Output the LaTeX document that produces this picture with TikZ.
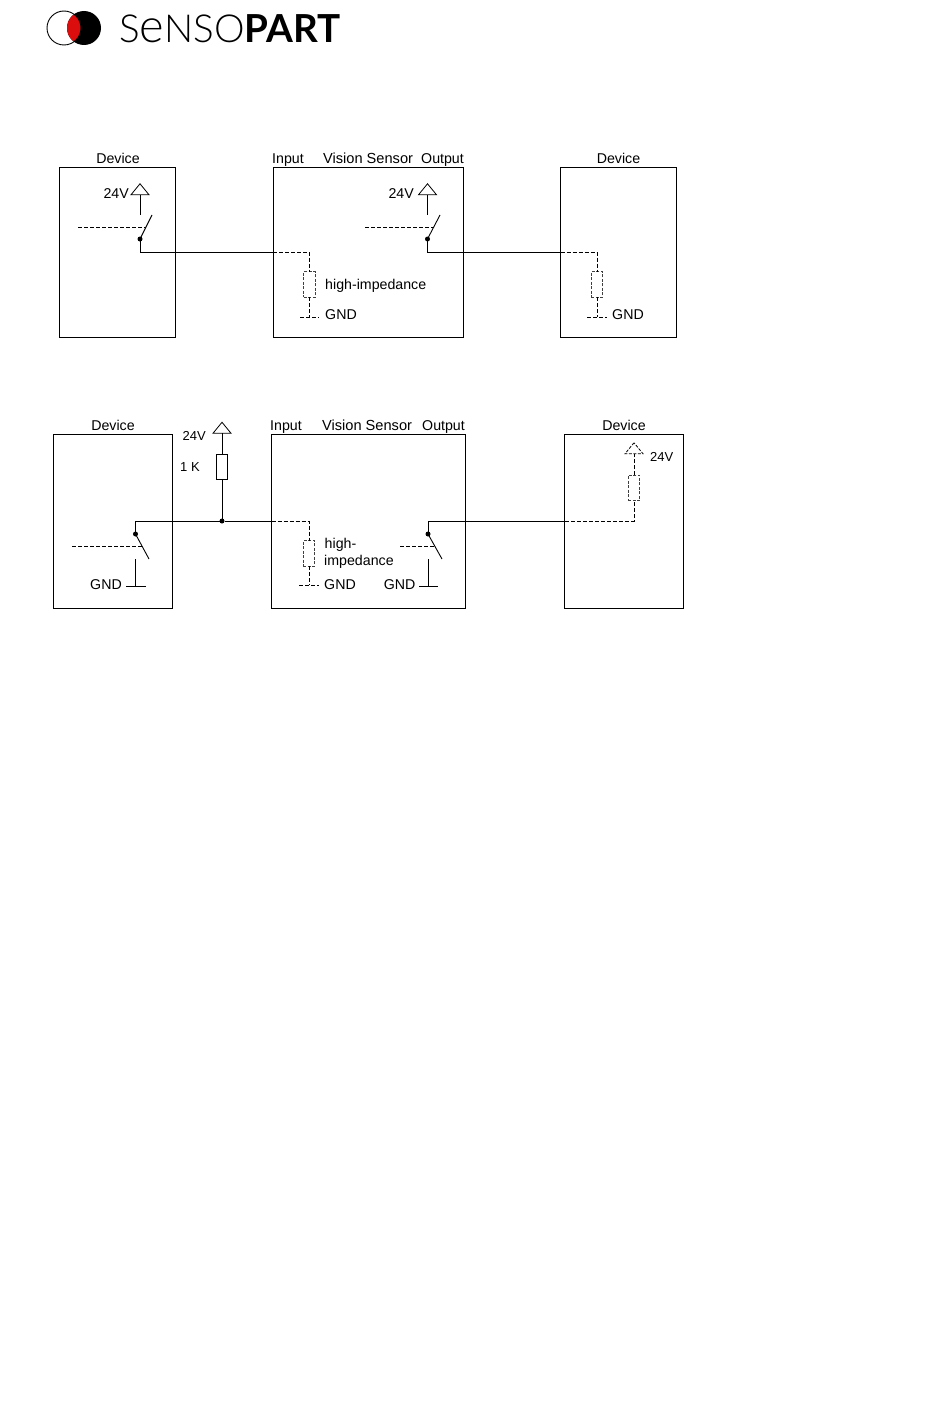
\documentclass[tikz,border=0pt]{standalone}
\usepackage{fontspec}
\setmainfont{Liberation Sans}
\newfontfamily\logofont[UprightFont=* Light,BoldFont=* Bold]{Lato}
\usetikzlibrary{positioning, arrows.meta, calc, shapes.geometric}

\begin{document}
\begin{tikzpicture}[
    x=1pt, y=-1pt,
    box/.style={draw, rectangle, line width=1pt, inner sep=0pt, outer sep=0pt},
    res/.style={draw, rectangle, line width=0.8pt, inner sep=0pt, outer sep=0pt, minimum width=11.5pt, minimum height=25.5pt},
    resd/.style={res, dash pattern=on 3pt off 1.5pt, black!75},
    vcc/.style={draw, isosceles triangle, isosceles triangle stretches, shape border rotate=90, line width=0.8pt, inner sep=0pt, outer sep=0pt, minimum width=18pt, minimum height=11pt},
    dot/.style={circle, fill, inner sep=0pt, outer sep=0pt, minimum size=5pt},
    txt/.style={inner sep=0pt, anchor=base west, font=\fontsize{14.2}{16}\selectfont},
    small/.style={font=\fontsize{13}{16}\selectfont},
    wire/.style={line width=0.9pt},
    ctrl/.style={line width=0.8pt, dash pattern=on 4pt off 2pt}
]
    \useasboundingbox (0,0) rectangle (950,1402);

    % Logo
    \fill[black] (84,28) circle (17);
    \begin{scope}
        \clip (64,28) circle (17);
        \fill[red!85!black!95] (84,28) circle (17);
    \end{scope}
    \draw[line width=0.9pt] (64,28) circle (17);
    \node[anchor=west, inner sep=0pt, font=\logofont\fontsize{38.6}{40}\selectfont] (logo) at (119,28.5) {S{\fontsize{47}{40}\selectfont e}NSO\textbf{PART}};

    % Top Row (boxes)
    \node[box, minimum width=116pt, minimum height=170pt] (devA) at (117.8,252) {};
    \node[box, minimum width=190pt, minimum height=170pt] (sensA) at (368,252) {};
    \node[box, minimum width=116pt, minimum height=170pt] (devB) at (618.7,252) {};
    \node[txt, anchor=base] (devAlbl) at (118,163) {Device};
    \node[txt] (inA) at (272,163) {Input};
    \node[txt, font=\fontsize{14.6}{16}\selectfont] (visA) at (323,163) {Vision Sensor};
    \node[txt] (outA) at (421,163) {Output};
    \node[txt, anchor=base] (devBlbl) at (618.5,163) {Device};

    % Top Row, device switch
    \node[vcc] (vccA) at (140,190.5) {};
    \node[txt, anchor=base east] (vccAlbl) at (129,198.5) {24V};
    \node[dot] (dotA) at (140,239) {};
    \coordinate (stemA) at (140,215);
    \coordinate (tipA) at (152,215);
    \coordinate (ctlA) at (78,227);
    \coordinate (hitA) at (146,227);
    \coordinate (kneeA) at (140,252);
    \draw[wire] (vccA.lower side) -- (stemA);
    \draw[wire] (dotA.center) -- (tipA);
    \draw[ctrl] (ctlA) -- (hitA);

    % Top Row, sensor input
    \node[resd] (resA) at (309.5,284.5) {};
    \coordinate (cornA) at (309.5,252);
    \coordinate (gndA) at (309.5,317);
    \coordinate (gndAl) at (300,317);
    \coordinate (gndAr) at (319,317);
    \node[txt] (hiA) at (325,289) {high-impedance};
    \node[txt] (gndAlbl) at (325,319.3) {GND};
    \draw[wire] (dotA.center) -- (kneeA) -- (sensA.west |- kneeA);
    \draw[ctrl] (sensA.west |- kneeA) -- (cornA) -- (resA.north);
    \draw[ctrl] (resA.south) -- (gndA);
    \draw[ctrl] (gndAl) -- (gndAr);

    % Top Row, sensor output
    \node[vcc] (vccB) at (427.5,190.5) {};
    \node[txt, anchor=base east] (vccBlbl) at (414,198.5) {24V};
    \node[dot] (dotB) at (427.5,239) {};
    \coordinate (stemB) at (427.5,215);
    \coordinate (tipB) at (440,215);
    \coordinate (ctlB) at (365,227);
    \coordinate (hitB) at (434,227);
    \coordinate (kneeB) at (427.5,252);
    \draw[wire] (vccB.lower side) -- (stemB);
    \draw[wire] (dotB.center) -- (tipB);
    \draw[ctrl] (ctlB) -- (hitB);

    % Top Row, right device
    \node[resd] (resB) at (597,284.5) {};
    \coordinate (cornB) at (597,252);
    \coordinate (gndB) at (597,317);
    \coordinate (gndBl) at (587,317);
    \coordinate (gndBr) at (607,317);
    \node[txt] (gndBlbl) at (612,319.3) {GND};
    \draw[wire] (dotB.center) -- (kneeB) -- (devB.west |- kneeB);
    \draw[ctrl] (devB.west |- kneeB) -- (cornB) -- (resB.north);
    \draw[ctrl] (resB.south) -- (gndB);
    \draw[ctrl] (gndBl) -- (gndBr);

    % Bottom Row (boxes)
    \node[box, minimum width=118.5pt, minimum height=174pt] (devC) at (113.2,521) {};
    \node[box, minimum width=194pt, minimum height=174pt] (sensC) at (368.7,521) {};
    \node[box, minimum width=118.5pt, minimum height=174pt] (devD) at (624.2,521) {};
    \node[txt, anchor=base] (devClbl) at (113,430) {Device};
    \node[txt] (inC) at (270,430) {Input};
    \node[txt, font=\fontsize{14.6}{16}\selectfont] (visC) at (322,430) {Vision Sensor};
    \node[txt] (outC) at (422,430) {Output};
    \node[txt, anchor=base] (devDlbl) at (624,430) {Device};

    % Bottom Row, pull-up
    \node[vcc] (vccC) at (222,429) {};
    \node[txt, small, anchor=base east] (vccClbl) at (206,440) {24V};
    \node[res, line width=0.9pt] (resP) at (222,467) {};
    \node[txt, small] (resPlbl) at (180,471) {1 K};
    \node[dot] (dotJ) at (222,521) {};
    \draw[wire] (vccC.lower side) -- (resP.north);
    \draw[wire] (resP.south) -- (dotJ);

    % Bottom Row, device switch
    \node[dot] (dotC) at (135.5,534) {};
    \coordinate (kneeC) at (135.5,521);
    \coordinate (tipC) at (149,559);
    \coordinate (ctlC) at (72,546);
    \coordinate (hitC) at (142,546);
    \coordinate (stemC) at (135.5,559);
    \coordinate (earthC) at (135.5,586);
    \coordinate (earthCl) at (126,586);
    \coordinate (earthCr) at (146,586);
    \node[txt, anchor=base east] (gndClbl) at (122,589.3) {GND};
    \draw[wire] (dotC.center) -- (tipC);
    \draw[ctrl] (ctlC) -- (hitC);
    \draw[wire] (stemC) -- (earthC);
    \draw[wire] (earthCl) -- (earthCr);

    % Bottom Row, sensor input
    \node[resd] (resC) at (309,553.5) {};
    \coordinate (cornC) at (309,521);
    \coordinate (gndC) at (309,585);
    \coordinate (gndCl) at (299,585);
    \coordinate (gndCr) at (319,585);
    \node[txt] (hiC) at (324.5,548) {high-};
    \node[txt] (impC) at (324,565) {impedance};
    \node[txt] (gndCxl) at (324,589.3) {GND};
    \draw[wire] (dotC.center) -- (kneeC) -- (dotJ) -- (sensC.west |- dotJ);
    \draw[ctrl] (sensC.west |- dotJ) -- (cornC) -- (resC.north);
    \draw[ctrl] (resC.south) -- (gndC);
    \draw[ctrl] (gndCl) -- (gndCr);

    % Bottom Row, sensor output
    \node[dot] (dotD) at (428,534) {};
    \coordinate (kneeD) at (428,521);
    \coordinate (tipD) at (442,559);
    \coordinate (ctlD) at (400,546);
    \coordinate (hitD) at (435,546);
    \coordinate (stemD) at (428,559);
    \coordinate (earthD) at (428,586);
    \coordinate (earthDl) at (419,586);
    \coordinate (earthDr) at (438,586);
    \node[txt, anchor=base east] (gndDlbl) at (415.5,589.3) {GND};
    \draw[wire] (dotD.center) -- (tipD);
    \draw[ctrl] (ctlD) -- (hitD);
    \draw[wire] (stemD) -- (earthD);
    \draw[wire] (earthDl) -- (earthDr);

    % Bottom Row, right device
    \node[resd] (resD) at (634,488) {};
    \node[vcc, dash pattern=on 3pt off 1.5pt] (vccD) at (634,449.5) {};
    \coordinate (cornD) at (634,521);
    \node[txt, small] (vccDlbl) at (650,461) {24V};
    \draw[wire] (dotD.center) -- (kneeD) -- (devD.west |- kneeD);
    \draw[ctrl] (devD.west |- kneeD) -- (cornD) -- (resD.south);
    \draw[ctrl] (resD.north) -- (vccD.lower side);
\end{tikzpicture}
\end{document}
